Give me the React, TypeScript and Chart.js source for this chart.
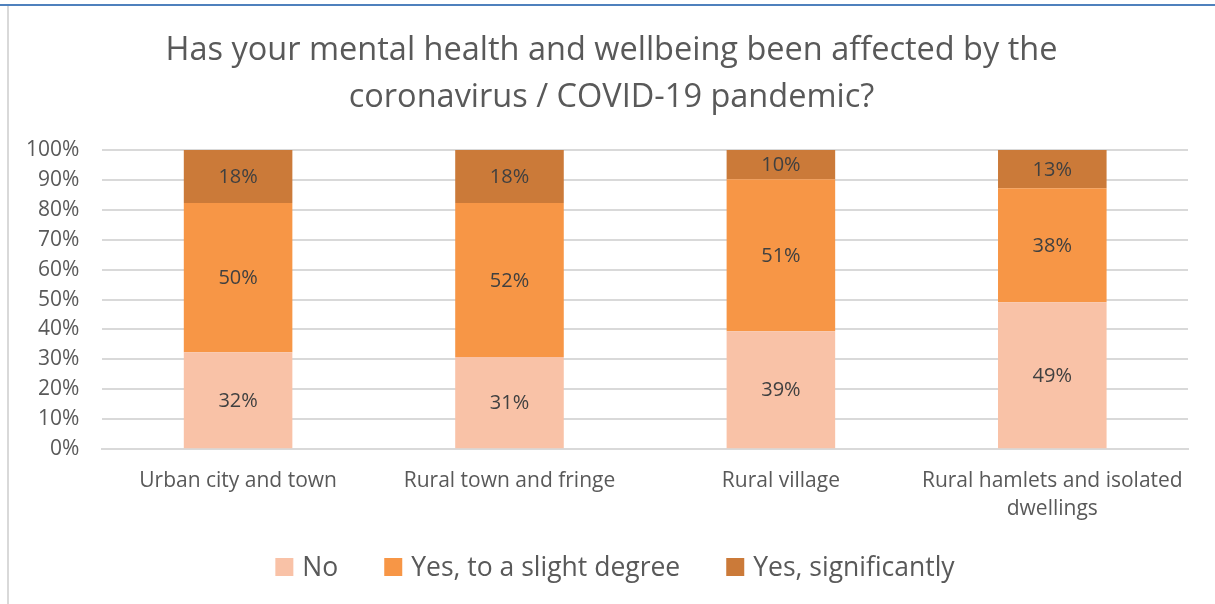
import React, { useEffect, useRef } from "react";
import { Chart, registerables } from "chart.js";

Chart.register(...registerables);

const categories: (string | string[])[] = [
  "Urban city and town",
  "Rural town and fringe",
  "Rural village",
  ["Rural hamlets and isolated", "dwellings"],
];
const noValues = [32.4, 30.8, 39.4, 49.1];
const slightValues = [49.9, 51.5, 50.8, 38.1];
const significantValues = [17.7, 17.7, 9.8, 12.8];
const seriesNames = ["No", "Yes, to a slight degree", "Yes, significantly"];
const seriesColors = ["#F9C2A7", "#F79646", "#CB7A39"];
const titleLines = [
  "Has your mental health and wellbeing been affected by the",
  "coronavirus / COVID-19 pandemic?",
];
const yTicks = [0, 10, 20, 30, 40, 50, 60, 70, 80, 90, 100];

const FONT = "'Open Sans', 'Noto Sans', sans-serif";

const labelPlugin = {
  id: "barLabels",
  afterDatasetsDraw(chart: any) {
    const ctx = chart.ctx;
    ctx.save();
    ctx.font = `20px ${FONT}`;
    ctx.fillStyle = "#404040";
    ctx.textAlign = "center";
    ctx.textBaseline = "middle";
    chart.data.datasets.forEach((ds: any, di: number) => {
      const meta = chart.getDatasetMeta(di);
      meta.data.forEach((bar: any, i: number) => {
        const v = ds.data[i];
        const y = (bar.y + bar.base) / 2;
        ctx.fillText(`${Math.round(v)}%`, bar.x, y + 1);
      });
    });
    ctx.restore();
  },
};

const titleLegendPlugin = {
  id: "titleLegend",
  afterDraw(chart: any) {
    const ctx = chart.ctx;
    ctx.save();
    // title
    ctx.font = `32.5px ${FONT}`;
    ctx.fillStyle = "#595959";
    ctx.textAlign = "center";
    ctx.textBaseline = "middle";
    ctx.fillText(titleLines[0], 602.5, 45);
    ctx.fillText(titleLines[1], 602.5, 92);
    // legend
    ctx.font = `26.5px ${FONT}`;
    ctx.textAlign = "left";
    const box = 18;
    const gapText = 9;
    const gapItem = 46;
    const widths = chart.data.datasets.map((d: any) => ctx.measureText(d.label).width);
    const total =
      widths.reduce((a: number, b: number) => a + b, 0) +
      widths.length * (box + gapText) +
      (widths.length - 1) * gapItem;
    let x = 606 - total / 2;
    const cy = 561;
    chart.data.datasets.forEach((d: any, i: number) => {
      ctx.fillStyle = d.backgroundColor;
      ctx.fillRect(x, cy - box / 2, box, box);
      x += box + gapText;
      ctx.fillStyle = "#595959";
      ctx.fillText(d.label, x, cy + 1);
      x += widths[i] + gapItem;
    });
    ctx.restore();
  },
};

export default function App() {
  const ref = useRef<HTMLCanvasElement>(null);
  useEffect(() => {
    document.body.style.margin = "0";
    const chart = new Chart(ref.current!, {
      type: "bar",
      data: {
        labels: categories,
        datasets: seriesNames.map((name, i) => ({
          label: name,
          data: [noValues, slightValues, significantValues][i],
          backgroundColor: seriesColors[i],
        })),
      },
      options: {
        animation: false,
        responsive: false,
        maintainAspectRatio: false,
        layout: { padding: { left: -6, right: 27, top: 144, bottom: 71 } },
        datasets: {
          bar: { barPercentage: 0.4, categoryPercentage: 1, borderWidth: 0 },
        } as any,
        plugins: {
          title: { display: false },
          legend: { display: false },
          tooltip: { enabled: false },
        },
        scales: {
          x: {
            stacked: true,
            grid: { display: false },
            border: { color: "#D9D9D9", width: 2 },
            ticks: {
              color: "#595959",
              font: { family: FONT, size: 21, lineHeight: 1.33 },
              padding: 10,
              maxRotation: 0,
              autoSkip: false,
            },
          },
          y: {
            stacked: true,
            min: 0,
            max: 100,
            afterBuildTicks: (axis: any) => {
              axis.ticks = yTicks.map((v) => ({ value: v }));
            },
            grid: { color: "#D9D9D9", lineWidth: 2, drawTicks: false },
            border: { display: false },
            ticks: {
              color: "#595959",
              font: { family: FONT, size: 21 },
              padding: 23,
              callback: (v: any) => `${v}%`,
            },
          },
        },
      },
      plugins: [labelPlugin, titleLegendPlugin],
    });
    return () => chart.destroy();
  }, []);
  return (
    <div style={{ position: "fixed", left: 0, top: 0, width: 1215, height: 604, background: "#fff" }}>
      <div style={{ position: "absolute", left: 0, top: 4, width: 1215, height: 2, background: "#4F81BD" }} />
      <div style={{ position: "absolute", left: 7, top: 6, width: 2, height: 598, background: "#D9D9D9" }} />
      <canvas ref={ref} width={1206} height={598} style={{ position: "absolute", left: 9, top: 6 }} />
    </div>
  );
}
